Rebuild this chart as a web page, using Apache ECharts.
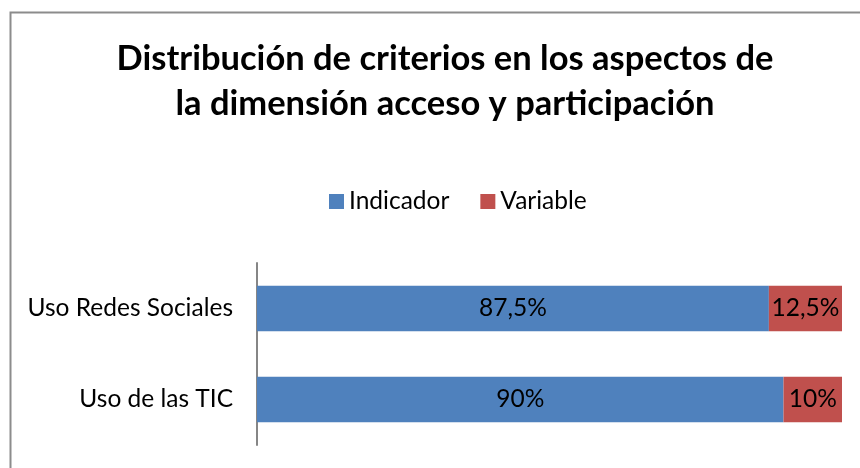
<!DOCTYPE html>
<html>
<head>
<meta charset="utf-8">
<script src="https://cdn.jsdelivr.net/npm/echarts@6/dist/echarts.min.js"></script>
<style>html,body{margin:0;padding:0;background:#fff}#c{width:860px;height:468px}</style>
</head>
<body>
<div id="c"></div>
<script>
const titleText = 'Distribución de criterios en los aspectos de\nla dimensión acceso y participación';
const categories = ['Uso de las TIC', 'Uso Redes Sociales'];
const seriesNames = ['Indicador', 'Variable'];
const indicadorValues = [90, 87.5];
const variableValues = [10, 12.5];
const seriesColors = ['#4F81BD', '#C0504D'];

const fontFamily = 'Lato, "Open Sans", sans-serif';
const chart = echarts.init(document.getElementById('c'), null, {renderer: 'canvas'});
const fmt = p => String(p.value).replace('.', ',') + '%';
chart.setOption({
  animation: false,
  backgroundColor: '#fff',
  graphic: [{
    type: 'rect', left: 8, top: 10, silent: true,
    shape: {width: 900, height: 500},
    style: {fill: 'none', stroke: '#8c8c8c', lineWidth: 2}
  }],
  title: {
    text: titleText, left: 440, top: 31, textAlign: 'center',
    textStyle: {fontFamily, fontWeight: 'bold', fontSize: 34.5, lineHeight: 45, color: '#000'}
  },
  legend: {
    data: seriesNames, top: 184, left: 324, itemWidth: 15, itemHeight: 15, itemGap: 31,
    icon: 'rect',
    textStyle: {fontFamily, fontSize: 24.5, color: '#000'}
  },
  grid: {left: 257, right: 18, top: 263, bottom: 23},
  xAxis: {type: 'value', min: 0, max: 100, show: false},
  yAxis: {
    type: 'category', data: categories,
    axisLine: {lineStyle: {color: '#868686', width: 2}},
    axisTick: {show: false},
    axisLabel: {fontFamily, fontSize: 24.5, color: '#000', margin: 24}
  },
  series: [
    {name: seriesNames[0], type: 'bar', stack: 't', data: indicadorValues, barCategoryGap: '50%',
     itemStyle: {color: seriesColors[0]},
     label: {show: true, position: 'inside', formatter: fmt, fontFamily, fontSize: 24.5, color: '#000'}},
    {name: seriesNames[1], type: 'bar', stack: 't', data: variableValues,
     itemStyle: {color: seriesColors[1]},
     label: {show: true, position: 'inside', formatter: fmt, fontFamily, fontSize: 24.5, color: '#000'}}
  ]
});
</script>
</body>
</html>
